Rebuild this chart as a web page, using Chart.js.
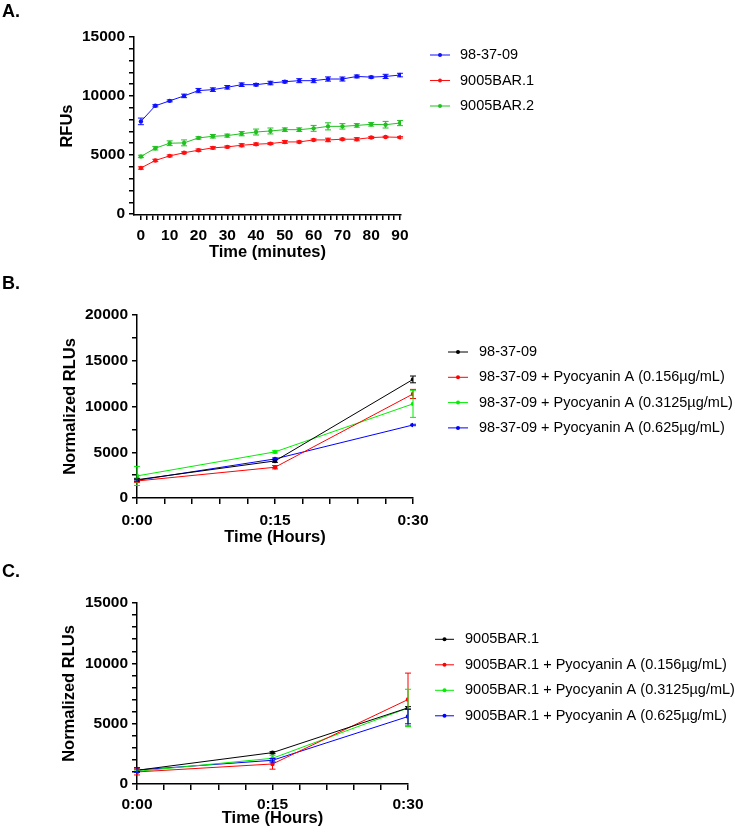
<!DOCTYPE html>
<html><head><meta charset="utf-8">
<script src="https://cdn.jsdelivr.net/npm/chart.js@4.4.0/dist/chart.umd.min.js"></script>
<style>
html,body{margin:0;padding:0;background:#fff;}
body{width:735px;height:836px;position:relative;overflow:hidden;font-family:"Liberation Sans",Arial,sans-serif;}
.panel{position:absolute;left:0;}
.plabel{position:absolute;left:2px;font-weight:bold;font-size:18px;line-height:1;color:#000;}
</style></head>
<body>
<div class="panel" style="top:0"><canvas id="cA" width="735" height="270"></canvas></div>
<div class="panel" style="top:270px"><canvas id="cB" width="735" height="280"></canvas></div>
<div class="panel" style="top:550px"><canvas id="cC" width="735" height="286"></canvas></div>
<div class="plabel" style="top:2px">A.</div>
<div class="plabel" style="top:274px">B.</div>
<div class="plabel" style="top:562px">C.</div>
<script>
// ---------- Panel A data ----------
const timeA = [0,5,10,15,20,25,30,35,40,45,50,55,60,65,70,75,80,85,90];
const xLabelsA = [0,10,20,30,40,50,60,70,80,90];
const yLabelsA = [0,5000,10000,15000];
const seriesNamesA = ['98-37-09','9005BAR.1','9005BAR.2'];
const blueA  = [7850,9170,9590,10010,10460,10540,10740,10960,10960,11100,11215,11300,11300,11440,11440,11660,11600,11660,11775];
const blueErrA = [280,90,80,150,180,150,150,150,100,150,100,170,170,180,170,120,80,180,150];
const redA   = [3900,4540,4930,5190,5410,5610,5690,5830,5920,5970,6110,6110,6280,6280,6340,6340,6480,6530,6500];
const redErrA = [100,100,80,80,100,100,80,130,100,80,120,80,80,150,80,130,80,60,60];
const greenA = [4880,5580,6000,6030,6450,6590,6645,6810,6950,7040,7150,7150,7260,7430,7430,7510,7600,7570,7710];
const greenErrA = [100,150,200,250,100,150,130,180,250,250,150,150,250,300,230,150,150,280,220];

// ---------- Panel B data ----------
const timeB = [0,15,30];               // minutes
const xLabelsB = ['0:00','0:15','0:30'];
const yLabelsB = [0,5000,10000,15000,20000];
const seriesNamesB = ['98-37-09','98-37-09 + Pyocyanin A (0.156µg/mL)','98-37-09 + Pyocyanin A (0.3125µg/mL)','98-37-09 + Pyocyanin A (0.625µg/mL)'];
const blackB = [2000,4050,12960];  const blackErrB = [150,150,370];
const redB   = [1860,3360,11370];  const redErrB   = [150,180,500];
const greenB = [2410,5040,10290];  const greenErrB = [1040,120,1480];
const blueB  = [1930,4270,7980];   const blueErrB  = [100,100,80];

// ---------- Panel C data ----------
const timeC = [0,15,30];
const xLabelsC = ['0:00','0:15','0:30'];
const yLabelsC = [0,5000,10000,15000];
const seriesNamesC = ['9005BAR.1','9005BAR.1 + Pyocyanin A (0.156µg/mL)','9005BAR.1 + Pyocyanin A (0.3125µg/mL)','9005BAR.1 + Pyocyanin A (0.625µg/mL)'];
const blackC = [1135,2600,6310];  const blackErrC = [100,80,100];
const redC   = [1000,1660,7000];  const redErrC   = [250,430,2190];
const greenC = [1050,2130,6300];  const greenErrC = [100,250,1550];
const blueC  = [1160,1965,5590];  const blueErrC  = [200,150,600];

Chart.defaults.font.family = "'Liberation Sans', Arial, sans-serif";
Chart.defaults.color = '#000';

const errorBars = {
  id: 'errorBars',
  afterDatasetsDraw(chart) {
    const {ctx, scales:{x, y}} = chart;
    chart.data.datasets.forEach((ds) => {
      if (!ds.errors) return;
      ctx.save();
      ctx.strokeStyle = ds.borderColor; ctx.lineWidth = 1;
      ds.data.forEach((pt, j) => {
        const e = ds.errors[j]; if (!e) return;
        const px = x.getPixelForValue(pt.x);
        const y1 = y.getPixelForValue(pt.y - e), y2 = y.getPixelForValue(pt.y + e);
        ctx.beginPath();
        ctx.moveTo(px, y1); ctx.lineTo(px, y2);
        ctx.moveTo(px - 3, y1); ctx.lineTo(px + 3, y1);
        ctx.moveTo(px - 3, y2); ctx.lineTo(px + 3, y2);
        ctx.stroke();
      });
      ctx.restore();
    });
  }
};

const sideLegend = {
  id: 'sideLegend',
  afterDraw(chart, args, o) {
    const {ctx} = chart;
    ctx.save();
    chart.data.datasets.forEach((ds, i) => {
      const y = o.y0 + i * o.dy;
      ctx.strokeStyle = ds.borderColor; ctx.lineWidth = 1;
      ctx.beginPath(); ctx.moveTo(o.x0, y); ctx.lineTo(o.x1, y); ctx.stroke();
      ctx.fillStyle = ds.borderColor;
      ctx.beginPath(); ctx.arc((o.x0 + o.x1) / 2, y, 2, 0, Math.PI * 2); ctx.fill();
      ctx.fillStyle = '#000';
      ctx.font = "14.5px 'Liberation Sans', Arial, sans-serif";
      ctx.textBaseline = 'middle'; ctx.textAlign = 'left';
      ctx.fillText(ds.label, o.tx, y);
    });
    ctx.restore();
  }
};

function ds(label, xs, ys, errs, color) {
  return {
    label, errors: errs,
    data: xs.map((t, i) => ({x: t, y: ys[i]})),
    borderColor: color, backgroundColor: color,
    pointBackgroundColor: color, pointBorderColor: color,
    borderWidth: 1, pointRadius: 2.2, pointBorderWidth: 0, tension: 0
  };
}

function range(a, b, step) { const r = []; for (let v = a; v <= b + 1e-9; v += step) r.push(v); return r; }

function makeChart(id, datasets, p) {
  return new Chart(document.getElementById(id), {
    type: 'line',
    data: { datasets },
    options: {
      responsive: false, maintainAspectRatio: false, animation: false,
      layout: { padding: p.pad },
      plugins: { legend: {display: false}, tooltip: {enabled: false}, sideLegend: p.legend },
      scales: {
        x: {
          type: 'linear', min: p.xmin, max: p.xmax,
          afterBuildTicks: s => { s.ticks = p.xticks.map(v => ({value: v})); },
          afterFit: s => { s.height = p.xh; },
          ticks: { autoSkip: false, maxRotation: 0, minRotation: 0, padding: p.xpad, color: '#000',
                   font: {size: 15.5, weight: 'bold'}, callback: p.xfmt },
          grid: { drawOnChartArea: false, drawTicks: true, tickLength: p.xtl, color: '#000', lineWidth: 1.5 },
          border: { display: true, color: '#000', width: 1.5 },
          title: { display: true, text: p.xtitle, color: '#000', font: {size: 16.5, weight: 'bold'},
                   padding: {top: 0, bottom: p.xtpad} }
        },
        y: {
          type: 'linear', min: p.ymin, max: p.ymax,
          afterBuildTicks: s => { s.ticks = p.yticks.map(v => ({value: v})); },
          afterFit: s => { s.width = p.yw; },
          ticks: { autoSkip: false, padding: 4, color: '#000', font: {size: 15.5, weight: 'bold'},
                   callback: p.yfmt },
          grid: { drawOnChartArea: false, drawTicks: true, tickLength: 5, color: '#000', lineWidth: 1.5 },
          border: { display: true, color: '#000', width: 1.5 },
          title: { display: true, text: p.ytitle, color: '#000', font: {size: 16.5, weight: 'bold'},
                   padding: {top: 0, bottom: 0} }
        }
      }
    },
    plugins: [errorBars, sideLegend]
  });
}

// Panel A
makeChart('cA', [
  ds(seriesNamesA[0], timeA, blueA, blueErrA, '#1010ff'),
  ds(seriesNamesA[1], timeA, redA, redErrA, '#ff1010'),
  ds(seriesNamesA[2], timeA, greenA, greenErrA, '#22c022')
], {
  pad: {left: 58, top: 37, right: 334, bottom: 0},
  xmin: -2.4, xmax: 90.35, ymin: -80, ymax: 15000,
  xticks: range(0, 90, 2), yticks: range(0, 15000, 1000),
  xfmt: v => xLabelsA.includes(v) ? String(v) : '',
  yfmt: v => yLabelsA.includes(v) ? String(v) : '',
  xh: 55, yw: 76, xtl: 5, xpad: 6, xtpad: 8,
  xtitle: 'Time (minutes)', ytitle: 'RFUs',
  legend: {x0: 430, x1: 450, tx: 460, y0: 55, dy: 25.5}
});

// Panel B
makeChart('cB', [
  ds(seriesNamesB[0], timeB, blackB, blackErrB, '#000000'),
  ds(seriesNamesB[1], timeB, redB, redErrB, '#ff0000'),
  ds(seriesNamesB[2], timeB, greenB, greenErrB, '#00ee00'),
  ds(seriesNamesB[3], timeB, blueB, blueErrB, '#0000ff')
], {
  pad: {left: 61, top: 45, right: 322, bottom: 0},
  xmin: 0, xmax: 30, ymin: 0, ymax: 20000,
  xticks: range(0, 30, 3), yticks: range(0, 20000, 2500),
  xfmt: v => { const i = timeB.indexOf(v); return i >= 0 ? xLabelsB[i] : ''; },
  yfmt: v => yLabelsB.includes(v) ? String(v) : '',
  xh: 52, yw: 76, xtl: 6, xpad: 7, xtpad: 3,
  xtitle: 'Time (Hours)', ytitle: 'Normalized RLUs',
  legend: {x0: 448, x1: 468, tx: 479, y0: 82, dy: 25.3}
});

// Panel C
makeChart('cC', [
  ds(seriesNamesC[0], timeC, blackC, blackErrC, '#000000'),
  ds(seriesNamesC[1], timeC, redC, redErrC, '#ff0000'),
  ds(seriesNamesC[2], timeC, greenC, greenErrC, '#00ee00'),
  ds(seriesNamesC[3], timeC, blueC, blueErrC, '#0000ff')
], {
  pad: {left: 60, top: 53, right: 327, bottom: 0},
  xmin: 0, xmax: 30, ymin: 0, ymax: 15000,
  xticks: range(0, 30, 3), yticks: range(0, 15000, 1000),
  xfmt: v => { const i = timeC.indexOf(v); return i >= 0 ? xLabelsC[i] : ''; },
  yfmt: v => yLabelsC.includes(v) ? String(v) : '',
  xh: 52, yw: 77, xtl: 6, xpad: 5, xtpad: 8,
  xtitle: 'Time (Hours)', ytitle: 'Normalized RLUs',
  legend: {x0: 435, x1: 454, tx: 465, y0: 89.3, dy: 25.5}
});
</script>
</body></html>
